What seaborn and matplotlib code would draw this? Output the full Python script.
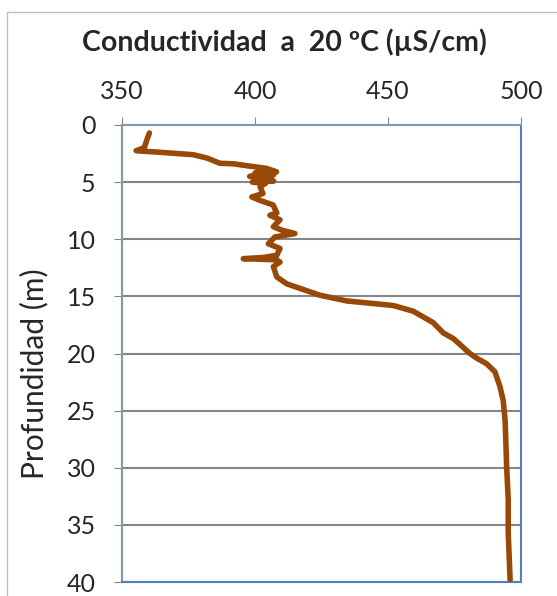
import numpy as np
import pandas as pd
import matplotlib
matplotlib.use('Agg')
import matplotlib.pyplot as plt
import seaborn as sns
from matplotlib.patches import Rectangle

# perfil de conductividad
profundidad = [0.7, 1.2, 1.9, 2.0, 2.25, 2.4, 2.6, 2.9, 3.35, 3.4, 3.6, 3.8, 4.1,
               4.2, 4.35, 4.5, 4.6, 4.75, 4.9, 5.0, 5.1, 5.4, 6.0, 6.3, 6.6, 7.0,
               7.7, 7.9, 8.3, 8.9, 9.2, 9.5, 9.8, 10.4, 10.8, 11.4, 11.6, 11.7,
               11.8, 12.0, 12.4, 13.3, 13.9, 14.1, 14.9, 15.4, 15.8, 16.3, 17.3,
               18.2, 18.7, 20.0, 20.4, 20.9, 21.6, 22.9, 24.1, 25.8, 27.0, 29.9,
               32.8, 35.7, 39.8]
conductividad = [360.3, 359.5, 358.5, 358.3, 355.3, 365, 376.8, 382, 386.8, 392, 398,
                 404.4, 408.1, 400, 407, 398, 406, 400, 407, 399, 404, 401.9, 403,
                 398.8, 401.9, 406.8, 408.2, 405.6, 409.4, 406.9, 410, 415, 407.5,
                 405, 409.4, 408.2, 403, 395.6, 408.2, 409.4, 406.9, 408.2, 411.9,
                 414.4, 424.4, 434.5, 452, 459.5, 467, 470.8, 474.6, 480.8, 483.3,
                 487.1, 490.2, 492.1, 493.3, 494, 494.2, 494.6, 495.2, 495.2, 495.9]
xticks = [350, 400, 450, 500]
yticks = [0, 5, 10, 15, 20, 25, 30, 35, 40]

df = pd.DataFrame({'cond': conductividad, 'prof': profundidad})

sns.set_style('white')
plt.rcParams['font.family'] = ['Lato', 'DejaVu Sans']

fig = plt.figure(figsize=(5.57, 5.96), dpi=100)
ax = fig.add_axes([122/557, 1-582/596, (521-122)/557, (582-125)/596])

# marco del grafico
fig.patches.append(Rectangle((7/557, -0.1), 1.2, 1-12/596+0.1, transform=fig.transFigure,
                             fill=False, edgecolor='#bfbfbf', lw=1))

for t in yticks[1:]:
    ax.axhline(t, color='#868686', lw=1.5, zorder=1)

sns.lineplot(data=df, x='cond', y='prof', sort=False, estimator=None,
             color='#984807', lw=4, ax=ax, zorder=3)

ax.set_xlim(350, 500)
ax.set_ylim(40, 0)
ax.set_xticks(xticks)
ax.set_yticks(yticks)
ax.xaxis.tick_top()
ax.tick_params(axis='x', direction='out', length=6, color='#868686', labelsize=18, pad=10)
ax.tick_params(axis='y', direction='out', length=6, color='#868686', labelsize=18, left=True, pad=13)
ax.set_xlabel('')
ax.set_ylabel('Profundidad (m)', fontsize=21.5, va='center')
ax.yaxis.set_label_coords(-0.2206, 0.455)

for s in ['top', 'left']:
    ax.spines[s].set_color('#8497b0')
for s in ['right', 'bottom']:
    ax.spines[s].set_color('#4f81bd')
for s in ax.spines.values():
    s.set_linewidth(1.5)

fig.text(0.51, 1-42/596, 'Conductividad  a  20 ºC (µS/cm)', ha='center', va='center',
         fontsize=20.5, fontweight='bold')

fig.savefig('out.png', dpi=100)
